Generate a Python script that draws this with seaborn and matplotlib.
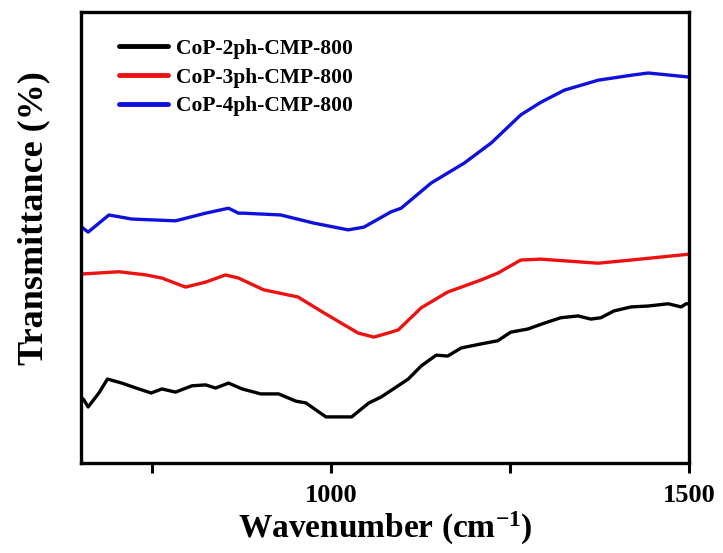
import numpy as np
import pandas as pd
import matplotlib
matplotlib.use("Agg")
import matplotlib.pyplot as plt
import seaborn as sns

# Data (wavenumber in cm^-1, transmittance in arbitrary units)
wn_2ph = [652, 655, 661, 676, 688, 708, 728, 749, 764, 783, 806, 825, 839, 857, 876,
          902, 927, 951, 965, 993, 1029, 1053, 1070, 1108, 1126, 1147, 1163, 1182,
          1210, 1233, 1251, 1275, 1298, 1321, 1345, 1363, 1377, 1395, 1419, 1443,
          1471, 1489, 1496, 1500]
t_2ph = [14.4, 14.0, 12.4, 15.5, 18.6, 17.7, 16.6, 15.5, 16.4, 15.7, 17.1, 17.3, 16.6,
         17.7, 16.4, 15.3, 15.3, 13.7, 13.3, 10.2, 10.2, 13.3, 14.6, 18.6, 21.5, 23.9,
         23.7, 25.5, 26.4, 27.1, 29.0, 29.7, 31.0, 32.2, 32.6, 31.9, 32.2, 33.7, 34.6,
         34.8, 35.3, 34.6, 35.3, 35.3]

wn_3ph = [652, 704, 742, 764, 797, 825, 853, 871, 906, 954, 990, 1038, 1060, 1084,
          1094, 1126, 1163, 1210, 1233, 1265, 1293, 1373, 1419, 1500]
t_3ph = [41.9, 42.4, 41.7, 41.0, 39.0, 40.1, 41.7, 41.0, 38.4, 36.8, 33.3, 28.8, 27.9,
         29.0, 29.5, 34.4, 37.9, 40.6, 42.1, 45.0, 45.2, 44.3, 45.0, 46.3]

wn_4ph = [652, 661, 690, 722, 783, 825, 857, 871, 878, 930, 976, 1024, 1046, 1084,
          1098, 1140, 1186, 1224, 1265, 1293, 1326, 1373, 1419, 1443, 1475, 1500]
t_4ph = [52.3, 51.2, 55.0, 54.1, 53.7, 55.4, 56.5, 55.4, 55.4, 55.0, 53.2, 51.7, 52.3,
         55.7, 56.5, 62.1, 66.5, 71.0, 77.2, 80.0, 82.7, 84.9, 86.0, 86.5, 86.0, 85.6]

series_names = ["CoP-2ph-CMP-800", "CoP-3ph-CMP-800", "CoP-4ph-CMP-800"]
colors = ["#000000", "#ee1111", "#1010dd"]

df = pd.concat([
    pd.DataFrame({"wn": wn_2ph, "T": t_2ph, "sample": series_names[0]}),
    pd.DataFrame({"wn": wn_3ph, "T": t_3ph, "sample": series_names[1]}),
    pd.DataFrame({"wn": wn_4ph, "T": t_4ph, "sample": series_names[2]}),
])

sns.set_style("ticks", {"axes.edgecolor": "black", "xtick.color": "black",
                        "ytick.color": "black", "text.color": "black",
                        "axes.labelcolor": "black"})
plt.rcParams["font.family"] = ["Liberation Serif", "DejaVu Serif"]
plt.rcParams["font.weight"] = "bold"
plt.rcParams["mathtext.fontset"] = "custom"
plt.rcParams["mathtext.rm"] = "Liberation Serif:bold"
plt.rcParams["mathtext.bf"] = "Liberation Serif:bold"
plt.rcParams["mathtext.it"] = "Liberation Serif:bold"

fig = plt.figure(figsize=(7.23, 5.53), dpi=100)
ax = fig.add_axes([0.112, 0.163, 0.841, 0.815])

sns.lineplot(data=df, x="wn", y="T", hue="sample", palette=colors, linewidth=2.4,
             ax=ax, sort=False, estimator=None)

ax.set_xlim(651, 1500)
ax.set_ylim(0, 100)
ax.set_xticks([1000, 1500])
ax.set_xticks([750, 1250], minor=True)
ax.set_yticks([])
ax.tick_params(axis="x", which="major", direction="out", length=7, width=2.2,
               labelsize=19, pad=8, colors="black")
ax.tick_params(axis="x", which="minor", direction="out", length=7, width=2.2,
               colors="black")
for s in ax.spines.values():
    s.set_linewidth(2.4)
    s.set_color("black")

ax.set_xlabel("Wavenumber (cm$^{\\mathbf{-1}}$)", fontsize=24, fontweight="bold",
              labelpad=2, color="black")
ax.set_ylabel("Transmittance (%)", fontsize=26, fontweight="bold", color="black")
ax.yaxis.set_label_coords(-0.05, 0.543)

leg = ax.legend(loc="upper left", bbox_to_anchor=(0.03, 0.984), frameon=False,
                prop={"family": "Liberation Serif", "weight": "bold", "size": 15.5},
                handlelength=2.3, handletextpad=0.35, labelspacing=0.4)
for line in leg.get_lines():
    line.set_linewidth(3.5)
for t in leg.get_texts():
    t.set_color("black")

fig.savefig("out.png", dpi=100)
